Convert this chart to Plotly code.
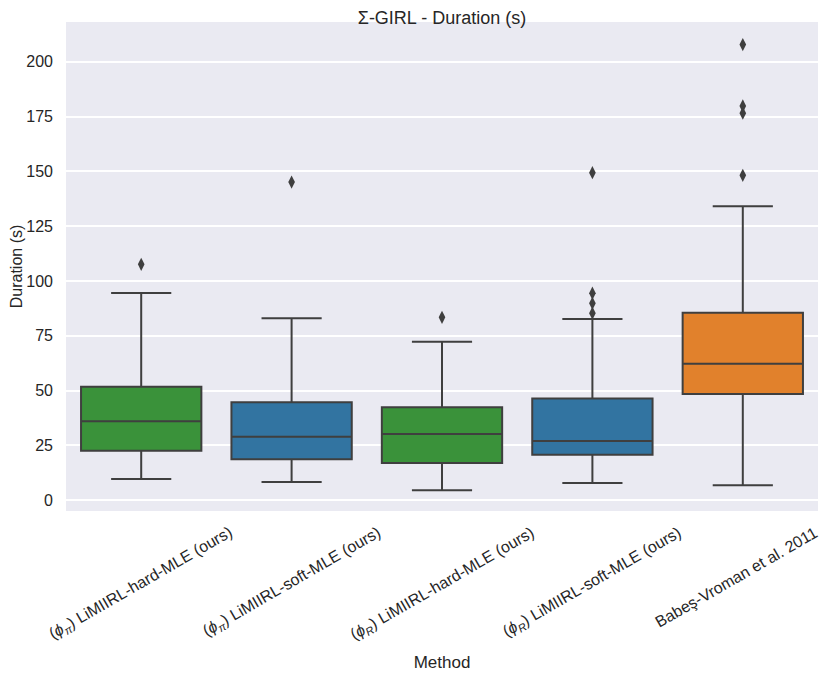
import plotly.graph_objects as go

# ---- data ----
methods = [
    "(<i>ϕ</i><sub><i>π</i></sub>) LiMIIRL-hard-MLE (ours)",
    "(<i>ϕ</i><sub><i>π</i></sub>) LiMIIRL-soft-MLE (ours)",
    "(<i>ϕ</i><sub><i>R</i></sub>) LiMIIRL-hard-MLE (ours)",
    "(<i>ϕ</i><sub><i>R</i></sub>) LiMIIRL-soft-MLE (ours)",
    "Babeş-Vroman et al. 2011",
]
keys = ["pi_hard", "pi_soft", "r_hard", "r_soft", "babes"]
q1 = [22.6, 18.7, 17.0, 20.7, 48.5]
median = [36.0, 29.0, 30.2, 27.0, 62.2]
q3 = [51.8, 44.7, 42.4, 46.4, 85.5]
lowerfence = [9.7, 8.3, 4.6, 7.9, 6.8]
upperfence = [94.5, 83.0, 72.3, 82.7, 134.1]
outliers = [
    [107.6],
    [145.1],
    [83.4],
    [149.4, 94.4, 89.8, 85.3],
    [207.8, 179.8, 176.5, 148.2],
]
colors = ["#3a923a", "#3274a1", "#3a923a", "#3274a1", "#e1812c"]
yticks = [0, 25, 50, 75, 100, 125, 150, 175, 200]

LINE = "#3f3f3f"
TXT = "#262626"
FONT = "Liberation Sans, Arial, sans-serif"

fig = go.Figure()
for i, k in enumerate(keys):
    fig.add_trace(go.Box(
        x=[k], q1=[q1[i]], median=[median[i]], q3=[q3[i]],
        lowerfence=[lowerfence[i]], upperfence=[upperfence[i]],
        width=0.8, whiskerwidth=0.5, boxpoints=False,
        fillcolor=colors[i], line=dict(color=LINE, width=2),
        showlegend=False,
    ))
    fig.add_trace(go.Scatter(
        x=[k] * len(outliers[i]), y=outliers[i], mode="markers",
        marker=dict(symbol="diamond-tall", size=9.5, color=LINE),
        showlegend=False,
    ))

label_xshift = [0, 0, 0, 0, -7]
for i, k in enumerate(keys):
    fig.add_annotation(
        x=k, xref="x", y=0, yref="paper", text=methods[i],
        textangle=-30, showarrow=False, xanchor="center", yanchor="top",
        yshift=-10, xshift=label_xshift[i],
        font=dict(family=FONT, size=16, color=TXT),
    )

fig.update_layout(
    width=830, height=674,
    margin=dict(l=58, r=20, t=14, b=171),
    paper_bgcolor="white", plot_bgcolor="#eaeaf2",
    boxmode="overlay",
    font=dict(family=FONT, size=16, color=TXT),
    title=dict(text="Σ-GIRL - Duration (s)", x=0.5, xref="paper",
               y=1 - 10 / 674, yref="container", yanchor="middle",
               font=dict(size=18, color=TXT)),
)
fig.update_xaxes(
    type="category", categoryorder="array", categoryarray=keys,
    range=[-0.5, 4.5], showticklabels=False, showgrid=False,
    zeroline=False, showline=False, ticks="", automargin=False,
    title=dict(text="Method", standoff=145, font=dict(size=17, color=TXT)),
)
fig.update_yaxes(
    range=[-4.9, 218.1], tickvals=yticks, ticks="", ticklabelstandoff=12,
    showgrid=True, gridcolor="white", gridwidth=1.5, zeroline=False,
    showline=False, tickfont=dict(size=16, color=TXT), automargin=False,
    title=dict(text="Duration (s)", standoff=1, font=dict(size=16, color=TXT)),
)

fig.write_html("out.html")
